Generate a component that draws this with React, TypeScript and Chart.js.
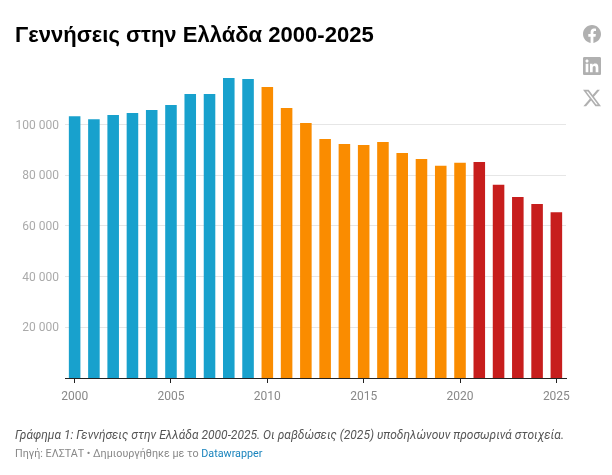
import React, { useEffect, useRef } from "react";
import { Chart, registerables } from "chart.js";

Chart.register(...registerables);

const years = [
  "2000", "2001", "2002", "2003", "2004", "2005", "2006", "2007", "2008",
  "2009", "2010", "2011", "2012", "2013", "2014", "2015", "2016", "2017",
  "2018", "2019", "2020", "2021", "2022", "2023", "2024", "2025",
];
const births = [
  103300, 102100, 103700, 104500, 105700, 107700, 112000, 112000, 118300,
  117900, 114800, 106500, 100600, 94300, 92300, 91900, 93100, 88800, 86400,
  83700, 84900, 85200, 76200, 71400, 68600, 65400,
];
const yTicks = [20000, 40000, 60000, 80000, 100000];
const xTicks = ["2000", "2005", "2010", "2015", "2020", "2025"];

const barColor = (year: string) => {
  const y = Number(year);
  if (y < 2010) return "#18a1cd";
  if (y < 2021) return "#fa8c00";
  return "#c71e1d";
};

const iconStyle: React.CSSProperties = {
  position: "absolute",
  left: 583,
  width: 18,
  height: 18,
  fill: "#b0b0b0",
};

const App: React.FC = () => {
  const chartRef = useRef<HTMLCanvasElement>(null);

  useEffect(() => {
    if (!chartRef.current) return;
    const chart = new Chart(chartRef.current, {
      type: "bar",
      data: {
        labels: years,
        datasets: [
          {
            label: "Γεννήσεις",
            data: births,
            backgroundColor: years.map(barColor),
            barPercentage: 0.6,
            categoryPercentage: 1,
          },
        ],
      },
      options: {
        responsive: false,
        animation: false,
        layout: { padding: { top: 73.8, right: 46, left: 0, bottom: 0 } },
        plugins: {
          legend: { display: false },
          title: { display: false },
          tooltip: { enabled: false },
        },
        scales: {
          x: {
            afterFit: (scale: any) => {
              scale.height = 97;
            },
            afterBuildTicks: (scale: any) => {
              scale.ticks = scale.ticks.filter((t: any) =>
                xTicks.includes(years[t.value])
              );
            },
            grid: {
              offset: false,
              drawOnChartArea: false,
              drawTicks: true,
              tickLength: 5,
              color: "#222",
              lineWidth: 1,
            },
            border: { display: true, color: "#222", width: 1 },
            ticks: {
              autoSkip: false,
              maxRotation: 0,
              padding: 7,
              color: "#888",
              font: { family: "Roboto", size: 12 },
            },
          },
          y: {
            min: 0,
            max: 120000,
            afterFit: (scale: any) => {
              scale.width = 65;
            },
            afterBuildTicks: (scale: any) => {
              scale.ticks = yTicks.map((value) => ({ value }));
            },
            grid: { drawTicks: false, color: "#e6e6e6", lineWidth: 1 },
            border: { display: false },
            ticks: {
              padding: 6,
              labelOffset: 1,
              color: "#aaa",
              font: { family: "Roboto", size: 12 },
              callback: (value: any) =>
                String(value).replace(/\B(?=(\d{3})+$)/g, " "),
            },
          },
        },
      },
    });
    return () => chart.destroy();
  }, []);

  return (
    <div
      style={{
        position: "absolute",
        top: 0,
        left: 0,
        width: 612,
        height: 475,
        background: "#fff",
        overflow: "hidden",
      }}
    >
      <canvas
        ref={chartRef}
        width={612}
        height={475}
        style={{ display: "block" }}
      />
      <div
        style={{
          position: "absolute",
          left: 15,
          top: 21,
          fontFamily: "'Liberation Sans', Arial, sans-serif",
          fontWeight: 700,
          fontSize: 22.06,
          lineHeight: "28px",
          color: "#000",
          whiteSpace: "nowrap",
        }}
      >
        Γεννήσεις στην Ελλάδα 2000-2025
      </div>
      <div
        style={{
          position: "absolute",
          left: 15,
          top: 427,
          fontFamily: "Roboto",
          fontStyle: "italic",
          fontSize: 12,
          lineHeight: "16px",
          color: "#555",
          whiteSpace: "nowrap",
        }}
      >
        Γράφημα 1: Γεννήσεις στην Ελλάδα 2000-2025. Οι ραβδώσεις (2025)
        υποδηλώνουν προσωρινά στοιχεία.
      </div>
      <div
        style={{
          position: "absolute",
          left: 15,
          top: 447,
          fontFamily: "Roboto",
          fontSize: 10.75,
          lineHeight: "14px",
          color: "#888",
          whiteSpace: "nowrap",
        }}
      >
        Πηγή: ΕΛΣΤΑΤ • Δημιουργήθηκε με το{" "}
        <span style={{ color: "#1a84bd" }}>Datawrapper</span>
      </div>
      <svg viewBox="0 0 24 24" style={{ ...iconStyle, top: 25 }}>
        <path d="M24 12.073c0-6.627-5.373-12-12-12s-12 5.373-12 12c0 5.99 4.388 10.954 10.125 11.854v-8.385H7.078v-3.47h3.047V9.43c0-3.007 1.792-4.669 4.533-4.669 1.312 0 2.686.235 2.686.235v2.953H15.83c-1.491 0-1.956.925-1.956 1.874v2.25h3.328l-.532 3.47h-2.796v8.385C19.612 23.027 24 18.062 24 12.073z" />
      </svg>
      <svg viewBox="0 0 24 24" style={{ ...iconStyle, top: 57 }}>
        <path d="M20.447 20.452h-3.554v-5.569c0-1.328-.027-3.037-1.852-3.037-1.853 0-2.136 1.445-2.136 2.939v5.667H9.351V9h3.414v1.561h.046c.477-.9 1.637-1.85 3.37-1.85 3.601 0 4.267 2.37 4.267 5.455v6.286zM5.337 7.433c-1.144 0-2.063-.926-2.063-2.065 0-1.138.92-2.063 2.063-2.063 1.14 0 2.064.925 2.064 2.063 0 1.139-.925 2.065-2.064 2.065zm1.782 13.019H3.555V9h3.564v11.452zM22.225 0H1.771C.792 0 0 .774 0 1.729v20.542C0 23.227.792 24 1.771 24h20.451C23.2 24 24 23.227 24 22.271V1.729C24 .774 23.2 0 22.222 0h.003z" />
      </svg>
      <svg viewBox="0 0 24 24" style={{ ...iconStyle, top: 89 }}>
        <path d="M18.901 1.153h3.68l-8.04 9.19L24 22.846h-7.406l-5.8-7.584-6.638 7.584H.474l8.6-9.83L0 1.154h7.594l5.243 6.932ZM17.61 20.644h2.039L6.486 3.24H4.298Z" />
      </svg>
    </div>
  );
};

export default App;
